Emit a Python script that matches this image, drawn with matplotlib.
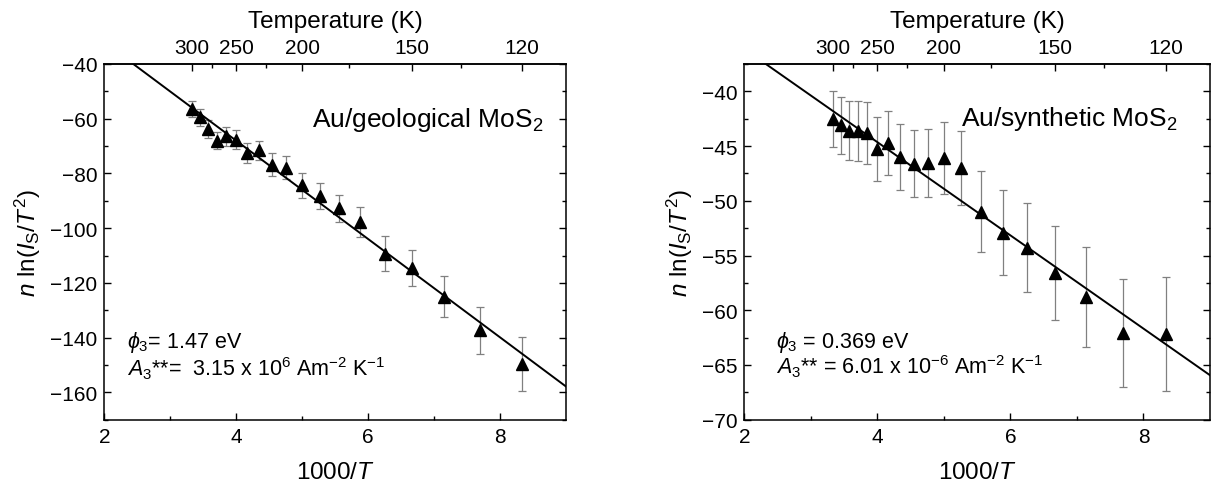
import numpy as np
import matplotlib.pyplot as plt

plt.rcParams['font.family'] = ['Liberation Sans', 'DejaVu Sans']
plt.rcParams['mathtext.fontset'] = 'custom'
plt.rcParams['mathtext.rm'] = 'Liberation Sans'
plt.rcParams['mathtext.it'] = 'Liberation Sans:italic'
plt.rcParams['mathtext.bf'] = 'Liberation Sans:bold'

# measurement temperatures (K)
temps = [300, 290, 280, 270, 260, 250, 240, 230, 220, 210,
         200, 190, 180, 170, 160, 150, 140, 130, 120]

# Au/geological MoS2
geo_y = [-56.6, -59.5, -63.8, -68.0, -66.5, -67.7, -72.5, -71.6, -76.8, -78.0,
         -84.3, -88.2, -92.7, -97.6, -109.3, -114.5, -125.0, -137.3, -149.7]
geo_err = [2.9, 3.1, 3.2, 3.2, 3.3, 3.4, 3.6, 3.6, 4.1, 4.2,
           4.5, 4.8, 5.0, 5.5, 6.3, 6.7, 7.4, 8.6, 9.9]
geo_fit = (-17.97, 3.85)   # slope, intercept

# Au/synthetic MoS2
syn_y = [-42.5, -43.1, -43.6, -43.6, -43.8, -45.3, -44.7, -46.0, -46.6, -46.55,
         -46.1, -47.0, -51.0, -52.9, -54.3, -56.6, -58.8, -62.1, -62.2]
syn_err = [2.57, 2.62, 2.7, 2.74, 2.82, 2.93, 2.93, 3.03, 3.09, 3.12,
           3.28, 3.4, 3.68, 3.86, 4.07, 4.32, 4.56, 4.95, 5.2]
syn_fit = (-4.26, -27.6)

temp_major = [300, 250, 200, 150, 120]
temp_minor = [275, 225, 175, 135]

TICK_FS = 15
LABEL_FS = 17.5


def to_temp(x):
    x = np.asarray(x, dtype=float)
    with np.errstate(divide='ignore'):
        return 1000.0 / x


def panel(ax, y, err, fit, ylim, ymajor, yminor, label, label_pos, phi_txt, a_txt, txt_pos):
    x = 1000.0 / np.array(temps)
    ax.errorbar(x, y, yerr=err, fmt='none', ecolor='#808080', elinewidth=0.9,
                capsize=3, capthick=0.9, zorder=2)
    ax.plot(x, y, '^', color='k', ms=9, zorder=3)
    xs = np.array([2.0, 9.0])
    ax.plot(xs, fit[0] * xs + fit[1], 'k-', lw=1.4, zorder=4)

    ax.set_xlim(2, 9)
    ax.set_ylim(*ylim)
    ax.set_xticks([2, 4, 6, 8])
    ax.set_xticks([3, 5, 7], minor=True)
    ax.set_yticks(ymajor)
    ax.set_yticks(yminor, minor=True)
    ax.tick_params(which='both', direction='in', top=False, right=True,
                   labelsize=TICK_FS, width=1.0, pad=5)
    ax.tick_params(which='major', length=5)
    ax.tick_params(which='minor', length=3)
    for s in ax.spines.values():
        s.set_linewidth(1.1)

    ax.set_xlabel('1000/$T$', fontsize=LABEL_FS, labelpad=11)
    ax.set_ylabel('$n$ ln($I_\\mathrm{S}$/$T^2$)', fontsize=LABEL_FS, labelpad=5)

    top = ax.secondary_xaxis('top', functions=(to_temp, to_temp))
    top.set_xticks(temp_major)
    top.set_xticks(temp_minor, minor=True)
    top.set_xticklabels([str(t) for t in temp_major])
    top.tick_params(which='both', direction='in', labelsize=TICK_FS, width=1.0, pad=5)
    top.tick_params(which='major', length=5)
    top.tick_params(which='minor', length=3)
    top.set_xlabel('Temperature (K)', fontsize=LABEL_FS, labelpad=8)
    top.spines['top'].set_linewidth(1.1)

    ax.text(label_pos[0], label_pos[1], label, fontsize=19, ha='right', va='center')
    ax.text(txt_pos[0], txt_pos[1], phi_txt, fontsize=15.5, ha='left', va='center')
    ax.text(txt_pos[0], txt_pos[2], a_txt, fontsize=15.5, ha='left', va='center')


fig = plt.figure(figsize=(12.11, 4.85), dpi=100)
ax1 = fig.add_axes([0.0861, 0.1326, 0.3813, 0.7334])
ax2 = fig.add_axes([0.6146, 0.1326, 0.3846, 0.7334])

panel(ax1, geo_y, geo_err, geo_fit, (-170, -40),
      [-160, -140, -120, -100, -80, -60, -40],
      [-170, -150, -130, -110, -90, -70, -50],
      'Au/geological MoS$_2$', (8.66, -60),
      '$\\phi_3$= 1.47 eV',
      '$A_3$**=  3.15 x 10$^6$ Am$^{-2}$ K$^{-1}$',
      (2.34, -141.5, -150.9))

panel(ax2, syn_y, syn_err, syn_fit, (-70, -37.6),
      [-70, -65, -60, -55, -50, -45, -40],
      [-67.5, -62.5, -57.5, -52.5, -47.5, -42.5, -37.5],
      'Au/synthetic MoS$_2$', (8.51, -42.4),
      '$\\phi_3$ = 0.369 eV',
      '$A_3$** = 6.01 x 10$^{-6}$ Am$^{-2}$ K$^{-1}$',
      (2.48, -62.9, -65.06))

fig.savefig('out.png', dpi=100)
